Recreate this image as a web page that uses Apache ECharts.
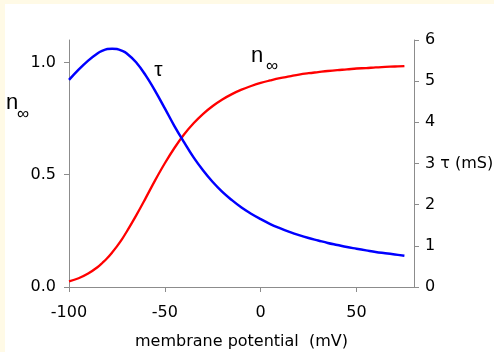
<!DOCTYPE html>
<html>
<head>
<meta charset="utf-8">
<script src="https://cdn.jsdelivr.net/npm/echarts@6/dist/echarts.min.js"></script>
<style>
html,body{margin:0;padding:0;background:#fff;}
#chart{width:494px;height:352px;}
</style>
</head>
<body>
<div id="chart"></div>
<script>
// membrane potential (mV)
const voltage = [-100,-95,-90,-85,-82.5,-80,-77.5,-75,-72.5,-70,-65,-60,-55,-50,-45,-40,-35,-30,-25,-20,-15,-10,-5,0,5,10,15,20,25,30,35,40,45,50,55,60,65,70,75];
// steady-state activation n_inf (left axis)
const nInf = [0.025,0.039,0.060,0.089,0.108,0.129,0.154,0.181,0.211,0.245,0.318,0.396,0.476,0.551,0.619,0.679,0.729,0.771,0.806,0.835,0.859,0.879,0.895,0.909,0.920,0.930,0.938,0.946,0.952,0.957,0.962,0.966,0.969,0.973,0.975,0.978,0.980,0.982,0.984];
// time constant tau (ms, right axis)
const tau = [5.03,5.28,5.50,5.68,5.74,5.78,5.79,5.78,5.74,5.68,5.46,5.14,4.76,4.34,3.91,3.52,3.15,2.83,2.55,2.31,2.11,1.93,1.78,1.65,1.53,1.43,1.34,1.26,1.19,1.13,1.07,1.02,0.97,0.93,0.89,0.85,0.82,0.79,0.76];
const xTicks = [-100,-50,0,50];
const leftTicks = [0,0.5,1.0];
const rightTicks = [0,1,2,3,4,5,6];

const FONT = 'DejaVu Sans';
const axisGray = '#8c8c8c';

const chart = echarts.init(document.getElementById('chart'), null, {renderer:'canvas'});
chart.setOption({
  animation:false,
  backgroundColor:'#ffffff',
  grid:{left:69,right:80,top:40,bottom:65,containLabel:false,outerBoundsMode:'none'},
  xAxis:{
    type:'value', min:-100, max:80,
    name:'membrane potential  (mV)', nameLocation:'middle', nameGap:47,
    nameTextStyle:{fontFamily:FONT,fontSize:16,color:'#000'},
    axisLine:{show:true,onZero:false,lineStyle:{color:axisGray,width:1}},
    axisTick:{show:true,length:5,customValues:xTicks,lineStyle:{color:axisGray}},
    axisLabel:{customValues:xTicks,margin:18,fontFamily:FONT,fontSize:16,color:'#000'},
    splitLine:{show:false}
  },
  yAxis:[{
    type:'value', min:0, max:1.1, position:'left',
    axisLine:{show:true,onZero:false,lineStyle:{color:axisGray,width:1}},
    axisTick:{show:true,length:5,customValues:leftTicks,lineStyle:{color:axisGray}},
    axisLabel:{customValues:leftTicks,margin:13,fontFamily:FONT,fontSize:16,color:'#000',
      formatter:v=>v.toFixed(1)},
    splitLine:{show:false}
  },{
    type:'value', min:0, max:6, interval:1, position:'right',
    axisLine:{show:true,onZero:false,lineStyle:{color:axisGray,width:1}},
    axisTick:{show:true,length:5,customValues:rightTicks,lineStyle:{color:axisGray}},
    axisLabel:{customValues:rightTicks,margin:11,fontFamily:FONT,fontSize:16,color:'#000',
      formatter:v=> v===3 ? '3 τ (mS)' : String(v)},
    splitLine:{show:false}
  }],
  series:[{
    type:'line', yAxisIndex:0, showSymbol:false, smooth:0.4,
    data:voltage.map((v,i)=>[v,nInf[i]]),
    lineStyle:{color:'#ff0000',width:2.3}, itemStyle:{color:'#ff0000'}
  },{
    type:'line', yAxisIndex:1, showSymbol:false, smooth:0.4,
    data:voltage.map((v,i)=>[v,tau[i]]),
    lineStyle:{color:'#0000ff',width:2.5}, itemStyle:{color:'#0000ff'}
  }],
  graphic:[
    {type:'rect',left:0,top:0,z:-10,shape:{width:494,height:4},style:{fill:'#fffae6'}},
    {type:'rect',left:0,top:0,z:-10,shape:{width:5,height:352},style:{fill:'#fffae6'}},
    {type:'text',x:12,y:103,style:{text:'n',font:'22px "Liberation Sans"',fill:'#000',textAlign:'center',textVerticalAlign:'middle'}},
    {type:'text',x:23,y:114,style:{text:'∞',font:'17px "Liberation Sans"',fill:'#000',textAlign:'center',textVerticalAlign:'middle'}},
    {type:'text',x:257,y:56,style:{text:'n',font:'22px "Liberation Sans"',fill:'#000',textAlign:'center',textVerticalAlign:'middle'}},
    {type:'text',x:272,y:66,style:{text:'∞',font:'17px "Liberation Sans"',fill:'#000',textAlign:'center',textVerticalAlign:'middle'}},
    {type:'text',x:158.5,y:70,style:{text:'τ',font:'21px "Liberation Sans"',fill:'#000',textAlign:'center',textVerticalAlign:'middle'}}
  ]
});
</script>
</body>
</html>
